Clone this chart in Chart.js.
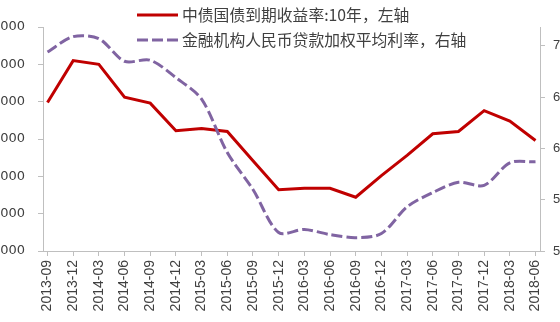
<!DOCTYPE html>
<html>
<head>
<meta charset="utf-8">
<script src="https://cdn.jsdelivr.net/npm/chart.js@4"></script>
<style>
  body { margin: 0; background: #fff; overflow: hidden; }
  #wrap { position: absolute; left: -30px; top: 0; width: 620px; height: 322px; }
  .leg { position: absolute; left: 137px; height: 20px; font-family: "Noto Sans CJK SC", sans-serif; font-size: 15.8px; color: #404040; white-space: nowrap; line-height: 20px; }
  .leg svg { position: absolute; left: 0; top: 0; }
  .leg span { position: absolute; left: 45px; top: 0; }
</style>
</head>
<body>
<div id="wrap"><canvas id="myChart" width="620" height="322"></canvas></div>
<div class="leg" style="top:5px">
  <svg width="42" height="20"><line x1="0" y1="10" x2="41" y2="10" stroke="#C00000" stroke-width="3"/></svg>
  <span id="leg1"></span>
</div>
<div class="leg" style="top:30px">
  <svg width="42" height="20"><line x1="0" y1="10" x2="41" y2="10" stroke="#8064A2" stroke-width="3" stroke-dasharray="11,4"/></svg>
  <span id="leg2"></span>
</div>
<script>
var categories = ['2013-09', '2013-12', '2014-03', '2014-06', '2014-09', '2014-12', '2015-03', '2015-06', '2015-09', '2015-12',
                  '2016-03', '2016-06', '2016-09', '2016-12', '2017-03', '2017-06', '2017-09', '2017-12', '2018-03', '2018-06'];
var bondYield = [3.99, 4.55, 4.50, 4.06, 3.98, 3.61, 3.64, 3.60, 3.21, 2.82,
                 2.84, 2.84, 2.72, 3.01, 3.28, 3.57, 3.60, 3.88, 3.74, 3.48];
var loanRate = [7.04, 7.19, 7.17, 6.95, 6.96, 6.79, 6.58, 6.06, 5.70, 5.28,
                5.31, 5.26, 5.23, 5.27, 5.53, 5.67, 5.77, 5.74, 5.96, 5.97];
var leftTicks = [2.0, 2.5, 3.0, 3.5, 4.0, 4.5, 5.0];
var rightTicks = [5.1, 5.6, 6.1, 6.6, 7.1];
var bondLabel = '中债国债到期收益率:10年，左轴';
var loanLabel = '金融机构人民币贷款加权平均利率，右轴';

document.getElementById('leg1').textContent = bondLabel;
document.getElementById('leg2').textContent = loanLabel;

var axisColor = '#BFBFBF';
var textColor = '#404040';

var ctx = document.getElementById('myChart').getContext('2d');
var myChart = new Chart(ctx, {
    type: 'line',
    data: {
        datasets: [{
            label: loanLabel,
            data: loanRate.map(function(v, i) { return { x: i, y: v }; }),
            yAxisID: 'y2',
            borderColor: '#8064A2',
            borderWidth: 3,
            borderDash: [11, 4],
            tension: 0.3,
            pointRadius: 0,
            order: 0
        }, {
            label: bondLabel,
            data: bondYield.map(function(v, i) { return { x: i, y: v }; }),
            yAxisID: 'y',
            borderColor: '#C00000',
            borderWidth: 3,
            tension: 0,
            pointRadius: 0,
            order: 1
        }]
    },
    options: {
        responsive: false,
        animation: false,
        devicePixelRatio: 1,
        layout: { padding: { top: 27, left: 0, right: 0, bottom: 0 } },
        plugins: { legend: { display: false }, tooltip: { enabled: false } },
        scales: {
            x: {
                type: 'linear',
                min: -0.175,
                max: 19.175,
                afterBuildTicks: function(s) {
                    s.ticks = categories.map(function(c, i) { return { value: i }; });
                },
                afterFit: function(s) { s.height = 71; },
                ticks: {
                    autoSkip: false,
                    minRotation: 90,
                    maxRotation: 90,
                    padding: 4,
                    color: textColor,
                    font: { family: 'Liberation Sans', size: 14 },
                    callback: function(v) { return categories[v]; }
                },
                grid: { drawOnChartArea: false, tickLength: 5, color: axisColor },
                border: { color: axisColor }
            },
            y: {
                position: 'left',
                min: 2,
                max: 5,
                afterBuildTicks: function(s) {
                    s.ticks = leftTicks.map(function(v) { return { value: v }; });
                },
                afterFit: function(s) { s.width = 73; },
                ticks: {
                    padding: 13,
                    color: textColor,
                    font: { family: 'DejaVu Sans', size: 13 },
                    callback: function(v) { return v.toFixed(4); }
                },
                grid: { drawOnChartArea: false, tickLength: 5, color: axisColor },
                border: { color: axisColor }
            },
            y2: {
                position: 'right',
                min: 5.1,
                max: 7.284,
                afterBuildTicks: function(s) {
                    s.ticks = rightTicks.map(function(v) { return { value: v }; });
                },
                afterFit: function(s) { s.width = 50; },
                ticks: {
                    padding: 8,
                    color: textColor,
                    font: { family: 'Liberation Sans', size: 13 },
                    callback: function(v) { return v.toFixed(2); }
                },
                grid: { drawOnChartArea: false, tickLength: 5, color: axisColor },
                border: { color: axisColor }
            }
        }
    }
});
</script>
</body>
</html>
